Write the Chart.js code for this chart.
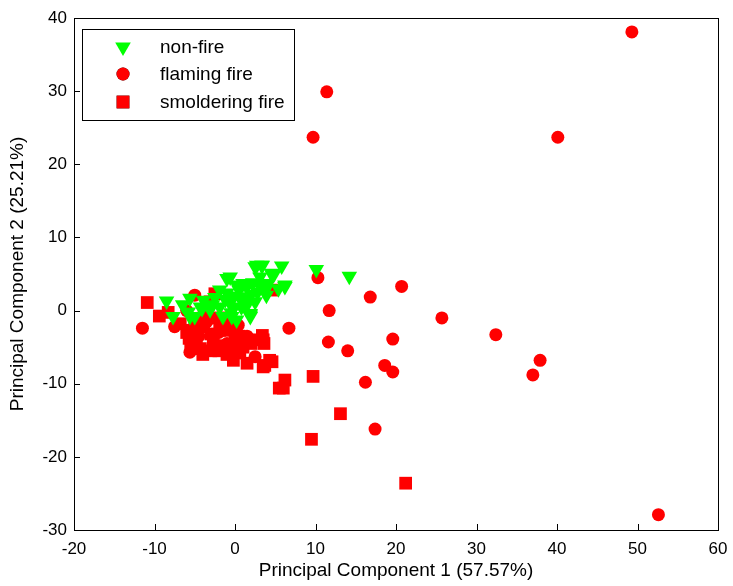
<!DOCTYPE html>
<html>
<head>
<meta charset="utf-8">
<script src="https://cdn.jsdelivr.net/npm/chart.js@4"></script>
<style>
  html, body { margin: 0; padding: 0; background: #fff; }
  canvas { display: block; }
</style>
</head>
<body>
<canvas id="pcaChart" width="733" height="586"></canvas>
<script>
// [PC1, PC2]
const nonFire = [
  [3.4, 6.2], [5.8, 6.1], [10.1, 5.6], [14.2, 4.7], [2.5, 6.0], [4.6, 5.1],
  [6.2, 3.3], [5.4, 3.0], [3.9, 2.1], [1.9, -0.8], [0.2, 3.5], [1.0, 3.7],
  [-0.6, 4.6], [4.1, 3.7], [3.3, 6.2], [-1.0, 4.4], [-5.6, 1.7], [-3.9, 1.4],
  [-4.3, 0.5], [-5.8, -0.2], [-5.0, -0.8], [-7.7, -0.8], [-3.1, 0.1], [-1.0, 2.4],
  [-0.2, 0.3], [1.9, -0.6], [1.5, 3.3], [3.9, 3.0], [0.2, -1.3], [-1.9, 2.8],
  [0.6, 1.9], [3.1, 4.6], [4.8, 4.9], [-0.6, 1.0], [-1.5, -0.8], [-8.5, 1.3],
  [2.8, 2.5], [1.2, 1.5], [-2.5, 1.8], [0.8, 0.5], [2.2, 3.8], [-0.3, 2.0], [-6.5, 0.8],
  [1.5, 0.8], [2.5, 1.2], [-0.5, -0.3], [0.5, 2.8], [2.0, 2.2], [-1.2, 1.5],
  [-2.8, 0.8], [-4.1, 0.3], [-5.6, -0.8], [1.0, 1.0], [2.7, 6.2], [4.6, 4.9],
  [-1.9, 0.5], [-0.4, -0.8], [1.9, -0.4], [6.2, 3.5], [3.1, 3.3]
];
const flamingFire = [
  [49.3, 38.1], [11.4, 29.9], [9.7, 23.7], [40.1, 23.7], [52.6, -27.9],
  [10.3, 4.5], [20.7, 3.3], [16.8, 1.85], [11.7, 0.0], [25.7, -1.0], [6.7, -2.4],
  [32.4, -3.3], [19.6, -3.9], [11.6, -4.3], [14.0, -5.5], [37.9, -6.8], [18.6, -7.5],
  [19.6, -8.4], [37.0, -8.8], [16.2, -9.8], [17.4, -16.2], [-11.5, -2.4], [-5.6, -5.7],
  [-5.0, 2.1], [-7.5, -2.2], [0.4, -2.0], [2.5, -6.3], [-3.5, -1.5], [-2.0, -3.0],
  [-1.0, -4.5], [1.5, -3.5], [-4.5, -3.5], [-4.5, -1.0], [-6.0, 0.0], [-2.5, -5.0],
  [-3.5, 0.5]
];
const smolderingFire = [
  [-10.9, 1.1], [-9.4, -0.75], [-8.3, -0.25], [3.4, -3.4], [3.6, -4.5], [1.0, -5.0],
  [-0.2, -6.8], [1.5, -7.2], [4.6, -7.0], [3.5, -7.7], [6.2, -9.5], [5.5, -10.6],
  [9.7, -9.0], [-5.7, -3.8], [-4.3, -5.2], [-2.7, -4.0], [-1.9, -2.7], [-0.6, -2.7],
  [-3.1, 1.2], [-2.5, 2.3], [-5.6, -2.7], [-3.9, -2.2], [13.1, -14.1], [9.5, -17.6],
  [21.2, -23.6], [6.0, -10.6], [-6.8, -1.8], [-2.0, -1.0], [-1.0, -1.8], [0.5, -3.5],
  [-3.0, -3.2], [-1.5, -4.8], [0.0, -4.2], [2.0, -4.5], [-4.8, -4.5],
  [-5.5, -5.0], [-4.0, -6.0], [-3.0, -5.5], [-2.0, -5.5], [-5.0, -2.0], [-6.0, -3.0],
  [-3.5, -1.0], [-1.0, -6.0], [0.6, -5.8], [3.7, -7.5], [4.3, -6.8], [1.9, -4.0],
  [3.5, -4.0], [-0.5, -5.5], [4.6, 2.8]
];
const seriesNames = ["non-fire", "flaming fire", "smoldering fire"];
const xTicks = [-20, -10, 0, 10, 20, 30, 40, 50, 60];
const yTicks = [-30, -20, -10, 0, 10, 20, 30, 40];

const toPts = arr => arr.map(p => ({ x: p[0], y: p[1] }));
const FONT = "'Liberation Sans', Arial, sans-serif";

// MATLAB-style box with inward ticks on the left and bottom axes
const framePlugin = {
  id: "frame",
  afterDraw(chart) {
    const { ctx, chartArea: a, scales } = chart;
    ctx.save();
    ctx.strokeStyle = "#000";
    ctx.lineWidth = 1;
    ctx.strokeRect(Math.round(a.left) + 0.5, Math.round(a.top) + 0.5,
      Math.round(a.right - a.left), Math.round(a.bottom - a.top));
    ctx.beginPath();
    xTicks.forEach(v => {
      const px = Math.round(scales.x.getPixelForValue(v)) + 0.5;
      ctx.moveTo(px, a.bottom);
      ctx.lineTo(px, a.bottom - 6);
    });
    yTicks.forEach(v => {
      const py = Math.round(scales.y.getPixelForValue(v)) + 0.5;
      ctx.moveTo(a.left, py);
      ctx.lineTo(a.left + 6, py);
    });
    ctx.stroke();
    ctx.restore();
  }
};

const legendPlugin = {
  id: "boxLegend",
  afterDraw(chart) {
    const ctx = chart.ctx;
    ctx.save();
    ctx.fillStyle = "#fff";
    ctx.fillRect(82, 29, 212, 91);
    ctx.strokeStyle = "#000";
    ctx.lineWidth = 1;
    ctx.strokeRect(82.5, 29.5, 212, 91);
    const rows = [47, 74, 102];
    chart.data.datasets.forEach((ds, i) => {
      Chart.helpers.drawPoint(ctx, {
        pointStyle: ds.pointStyle,
        radius: ds.pointRadius,
        rotation: ds.rotation || 0,
        borderWidth: 0
      }, 123, rows[i]);
      ctx.fillStyle = ds.backgroundColor;
      ctx.fill();
      ctx.fillStyle = "#000";
      ctx.font = "19px " + FONT;
      ctx.textAlign = "left";
      ctx.textBaseline = "middle";
      ctx.fillText(ds.label, 160, rows[i] + 1);
    });
    ctx.restore();
  }
};

new Chart(document.getElementById("pcaChart"), {
  type: "scatter",
  data: {
    datasets: [
      {
        label: seriesNames[0],
        data: toPts(nonFire),
        pointStyle: "triangle",
        rotation: 180,
        pointRadius: 9,
        backgroundColor: "#00ff00",
        borderWidth: 0
      },
      {
        label: seriesNames[1],
        data: toPts(flamingFire),
        pointStyle: "circle",
        pointRadius: 6.5,
        backgroundColor: "#ff0000",
        borderWidth: 0
      },
      {
        label: seriesNames[2],
        data: toPts(smolderingFire),
        pointStyle: "rect",
        pointRadius: 9,
        backgroundColor: "#ff0000",
        borderWidth: 0
      }
    ]
  },
  options: {
    responsive: false,
    animation: false,
    layout: { padding: { top: 18, right: 15, left: 0, bottom: 0 } },
    plugins: { legend: { display: false }, tooltip: { enabled: false } },
    scales: {
      x: {
        type: "linear",
        min: -20,
        max: 60,
        afterFit: s => { s.height = 56; s.paddingLeft = 0; s.paddingRight = 0; },
        afterBuildTicks: s => { s.ticks = xTicks.map(v => ({ value: v })); },
        grid: { display: false, drawTicks: false },
        border: { display: false },
        ticks: { color: "#000", font: { family: FONT, size: 17 }, padding: 9, maxRotation: 0 },
        title: {
          display: true,
          text: "Principal Component 1 (57.57%)",
          color: "#000",
          font: { family: FONT, size: 19 },
          padding: { top: 0, bottom: 4 }
        }
      },
      y: {
        type: "linear",
        min: -30,
        max: 40,
        afterFit: s => { s.width = 74; },
        afterBuildTicks: s => { s.ticks = yTicks.map(v => ({ value: v })); },
        grid: { display: false, drawTicks: false },
        border: { display: false },
        ticks: { color: "#000", font: { family: FONT, size: 17 }, padding: 7 },
        title: {
          display: true,
          text: "Principal Component 2 (25.21%)",
          color: "#000",
          font: { family: FONT, size: 19 },
          padding: { top: 6, bottom: 0 }
        }
      }
    }
  },
  plugins: [framePlugin, legendPlugin]
});
</script>
</body>
</html>
